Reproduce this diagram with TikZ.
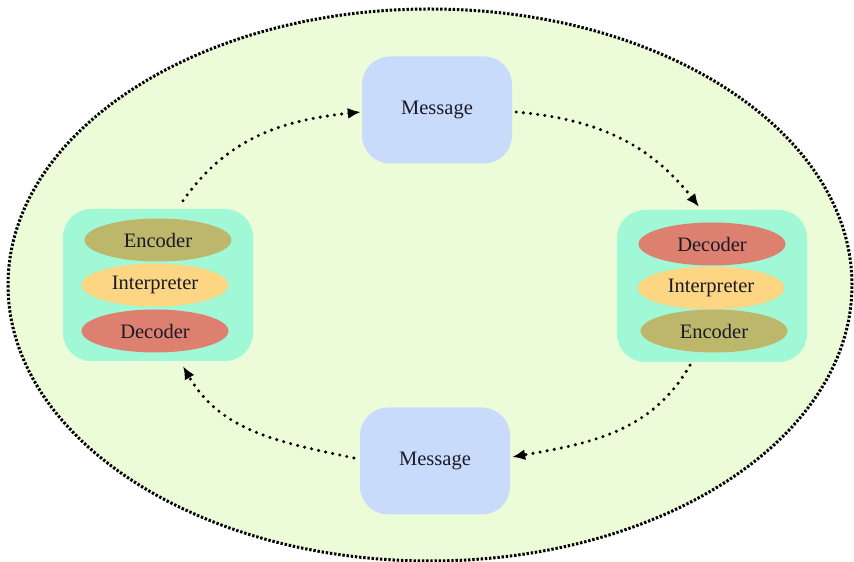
\documentclass[tikz,border=0pt]{standalone}
\usepackage{fontspec}
\setmainfont{Liberation Serif}
\usetikzlibrary{arrows.meta,shapes.geometric}

\definecolor{fieldbg}{RGB}{236,252,216}
\definecolor{msgfill}{RGB}{201,219,250}
\definecolor{agentfill}{RGB}{160,248,214}
\definecolor{encfill}{RGB}{189,183,107}
\definecolor{intfill}{RGB}{252,214,130}
\definecolor{decfill}{RGB}{222,128,112}
\definecolor{ink}{RGB}{26,26,40}

\tikzset{
  every node/.style={font=\fontsize{20.5}{24}\selectfont, text=ink},
  field/.style={ellipse, draw=black, fill=fieldbg, line width=3pt,
    dash pattern=on 2.4pt off 1.8pt, minimum width=844pt, minimum height=552pt, inner sep=0pt},
  msgbox/.style={rectangle, rounded corners=28pt, fill=msgfill,
    minimum width=150pt, minimum height=107pt, inner sep=0pt},
  agent/.style={rectangle, rounded corners=28pt, fill=agentfill,
    minimum width=190pt, minimum height=152pt, inner sep=0pt},
  role/.style={ellipse, minimum width=147pt, minimum height=43pt, inner sep=0pt},
  enc/.style={role, fill=encfill},
  intp/.style={role, fill=intfill},
  dec/.style={role, fill=decfill},
  flow/.style={line width=3.4pt, line cap=round, dash pattern=on 0pt off 7.2pt,
    -{Latex[length=13pt,width=11pt]}},
}

\begin{document}
\begin{tikzpicture}[x=1pt,y=1pt]
  \useasboundingbox (0,0) rectangle (854,562);

  % communication field
  \node[field] (field) at (430,277) {};

  % messages in transit
  \node[msgbox] (mtop) at (437,452) {Message};
  \node[msgbox] (mbot) at (435,101) {Message};

  % left agent
  \node[agent] (left) at (158,277) {};
  \node[enc]  (lenc) at (158,322) {Encoder};
  \node[intp] (lint) at (155,277) {Interpreter};
  \node[dec]  (ldec) at (155,231) {Decoder};

  % right agent
  \node[agent] (right) at (712,276) {};
  \node[dec]  (rdec) at (712,318) {Decoder};
  \node[intp] (rint) at (711,274) {Interpreter};
  \node[enc]  (renc) at (714,231) {Encoder};

  % message flow around the loop
  \draw[flow] ([xshift=25pt,yshift=8pt]left.north) to[out=55,in=186] ([xshift=-1pt,yshift=-2pt]mtop.west);
  \draw[flow] ([xshift=4pt,yshift=-2pt]mtop.east) to[out=-5,in=128] ([xshift=-13pt,yshift=3pt]right.north);
  \draw[flow] ([xshift=-22pt,yshift=-3pt]right.south) to[out=-120,in=10] ([xshift=2pt,yshift=4pt]mbot.east);
  \draw[flow] ([xshift=-6pt,yshift=3pt]mbot.west) to[out=168,in=-60] ([xshift=25pt,yshift=-5pt]left.south);
\end{tikzpicture}
\end{document}
